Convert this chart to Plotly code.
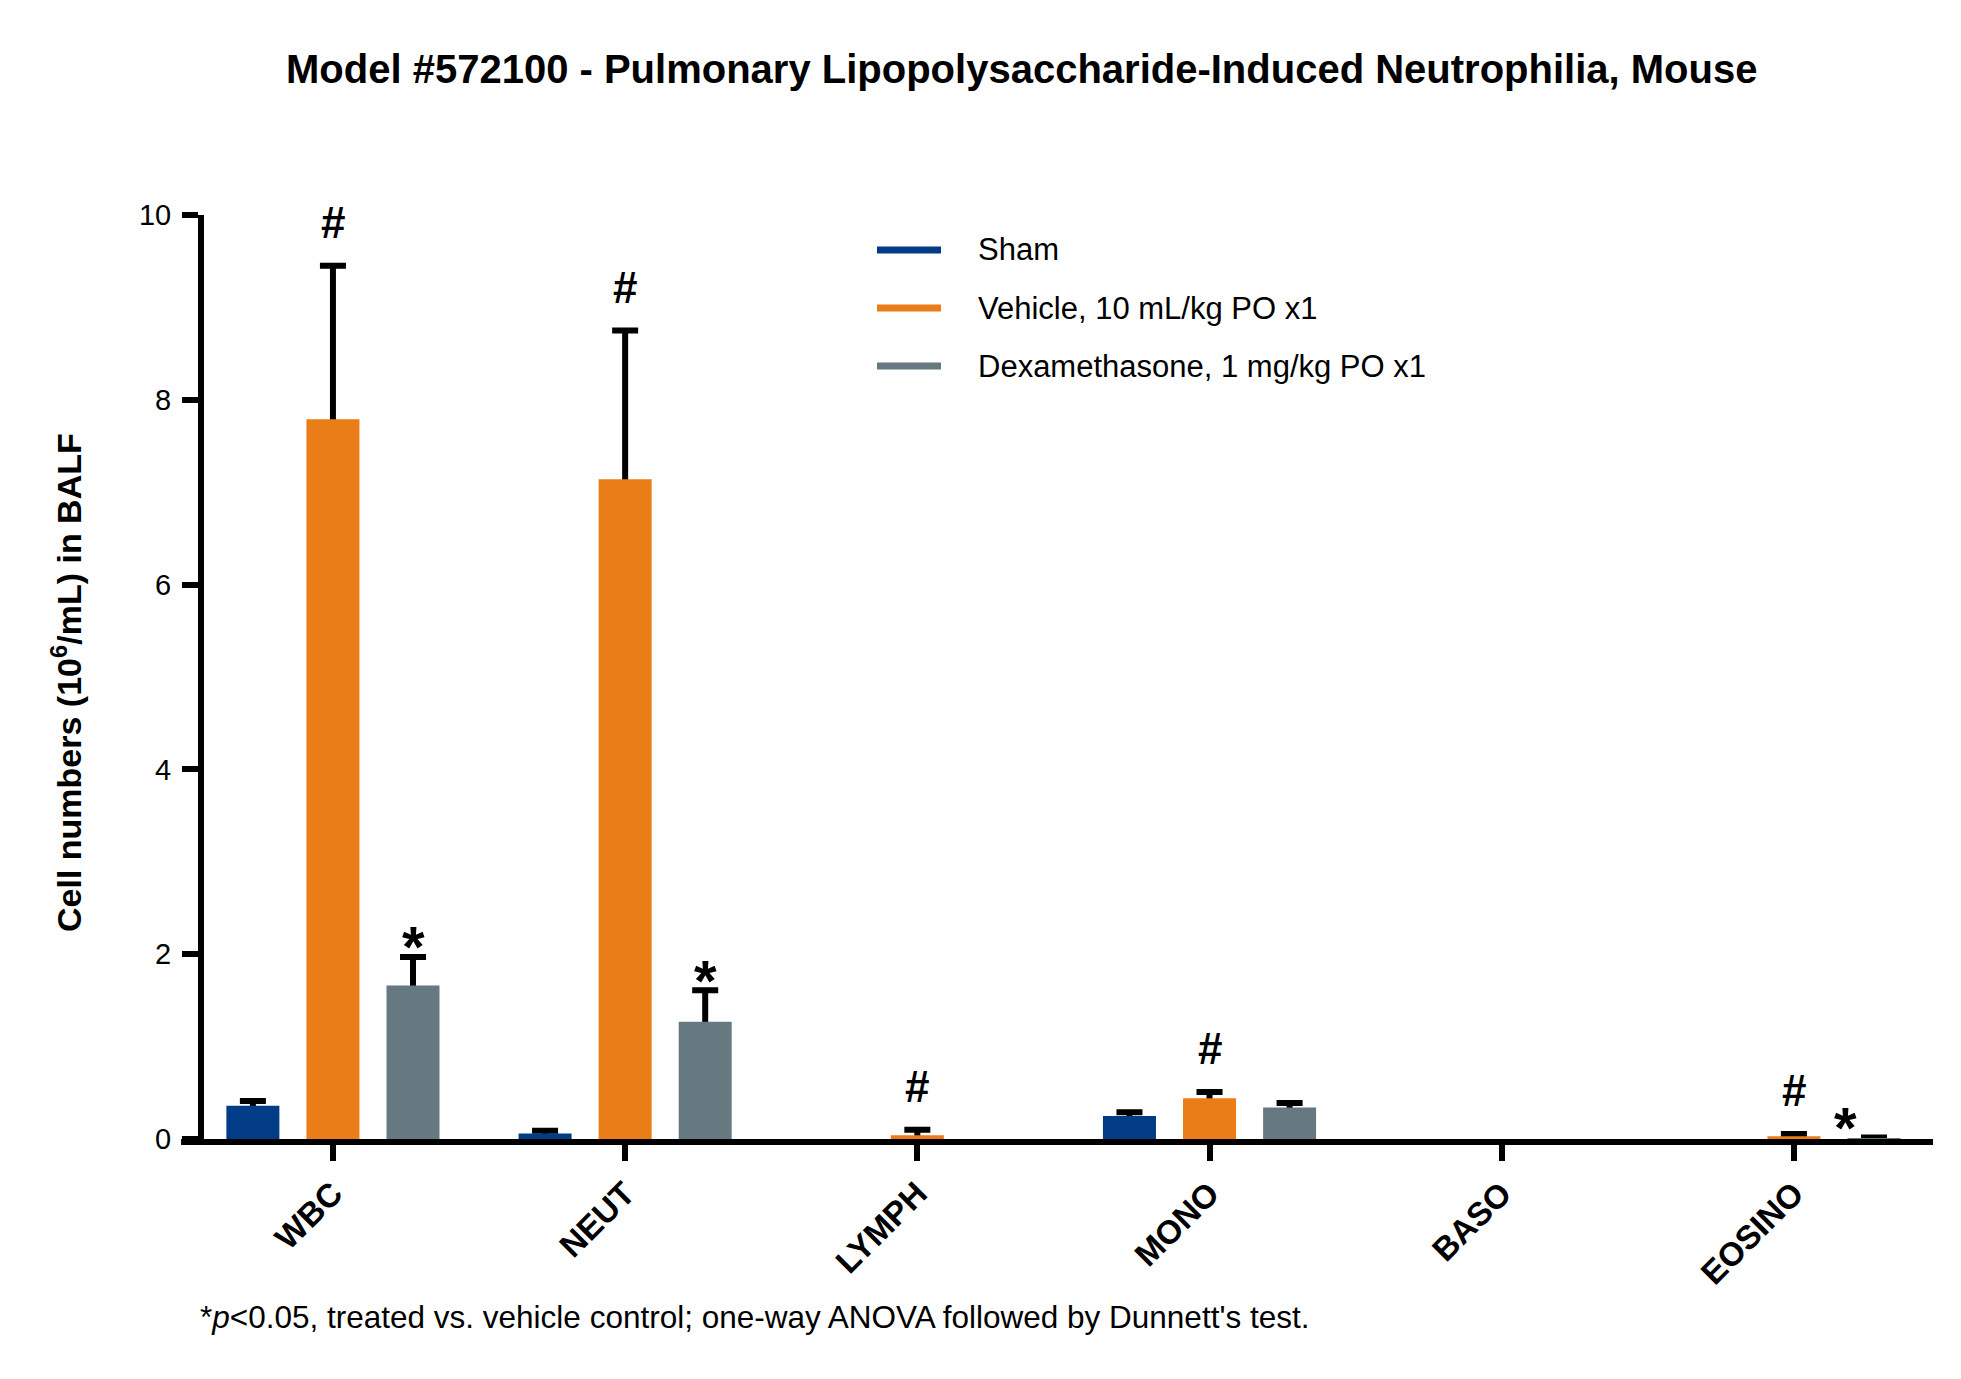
import plotly.graph_objects as go

# cell counts in BALF (10^6/mL), mean and upper error per group
categories = ["WBC", "NEUT", "LYMPH", "MONO", "BASO", "EOSINO"]
groups = ["Sham", "Vehicle, 10 mL/kg PO x1", "Dexamethasone, 1 mg/kg PO x1"]
colors = ["#023B86", "#EA7D17", "#667980"]

sham_mean = [0.36, 0.06, 0.0, 0.25, 0.0, 0.0]
sham_err = [0.05, 0.03, None, 0.04, None, None]
vehicle_mean = [7.79, 7.14, 0.04, 0.44, 0.0, 0.03]
vehicle_err = [1.66, 1.61, 0.06, 0.07, None, 0.025]
dex_mean = [1.66, 1.27, 0.0, 0.34, 0.0, 0.01]
dex_err = [0.31, 0.34, None, 0.05, None, 0.005]

# significance marks: (category, group index, symbol)
marks = [
    ("WBC", 1, "#"), ("NEUT", 1, "#"), ("LYMPH", 1, "#"), ("MONO", 1, "#"), ("EOSINO", 1, "#"),
    ("WBC", 2, "*"), ("NEUT", 2, "*"), ("EOSINO", 2, "*"),
]
mark_nudge = {("EOSINO", 2): -28}

means = [sham_mean, vehicle_mean, dex_mean]
errs = [sham_err, vehicle_err, dex_err]

# page geometry (px); the page body adds an 8px margin round the figure
PAGE_W, PAGE_H, BODY = 1961, 1379, 8
W, H = PAGE_W - 2 * BODY, PAGE_H - 2 * BODY
PLOT_L, PLOT_R, PLOT_T, PLOT_B = 181, 1933, 215, 1139  # plot area in page px
PW, PH = PLOT_R - PLOT_L, PLOT_B - PLOT_T
FONT = "Liberation Sans, Arial, sans-serif"
BARGAP, GROUPGAP = 0.178, 0.338
XRANGE = [-0.52, 5.476]


def px(x):
    return (x - PLOT_L) / PW


def py(y):
    return (PLOT_B - y) / PH


fig = go.Figure()

# error bars first (transparent bars), so coloured bars cover the lower stem
for g in range(3):
    xs = [c for c, e in zip(categories, errs[g]) if e is not None]
    ys = [m for m, e in zip(means[g], errs[g]) if e is not None]
    es = [e for e in errs[g] if e is not None]
    fig.add_trace(go.Bar(
        x=xs, y=ys, offsetgroup=str(g), marker_color="rgba(0,0,0,0)",
        marker_line_width=0, showlegend=False, hoverinfo="skip",
        error_y=dict(type="data", symmetric=False, array=es, arrayminus=ys,
                     color="black", thickness=6, width=13),
    ))

for g in range(3):
    fig.add_trace(go.Bar(
        x=categories, y=means[g], name=groups[g], offsetgroup=str(g),
        marker_color=colors[g], marker_line_width=0, showlegend=False,
    ))

# significance marks above the error caps
slot_px = (1 - BARGAP) / 3 * PW / (XRANGE[1] - XRANGE[0])
for cat, g, sym in marks:
    i = categories.index(cat)
    top = means[g][i] + (errs[g][i] or 0)
    fig.add_annotation(
        x=cat, y=top, xref="x", yref="y", text=sym, showarrow=False,
        xshift=(g - 1) * slot_px + mark_nudge.get((cat, g), 0),
        yanchor="middle",
        yshift=43 if sym == "#" else 10,
        font=dict(family=FONT, size=44 if sym == "#" else 58, color="black", weight="bold"),
    )

# legend drawn as thin swatches with labels
for g in range(3):
    ry = 250 + g * 58
    fig.add_shape(type="line", xref="paper", yref="paper",
                  x0=px(877), x1=px(941), y0=py(ry), y1=py(ry),
                  line=dict(color=colors[g], width=7))
    fig.add_annotation(x=px(976), y=py(ry), xref="paper", yref="paper",
                       text=groups[g], showarrow=False, xanchor="left", yanchor="middle",
                       font=dict(family=FONT, size=31, color="black"))

fig.add_annotation(
    x=px(1021), y=py(69), xref="paper", yref="paper", showarrow=False,
    xanchor="center", yanchor="middle",
    text="Model #572100 - Pulmonary Lipopolysaccharide-Induced Neutrophilia, Mouse",
    font=dict(family=FONT, size=40, color="black", weight="bold"),
)
fig.add_annotation(
    x=px(66), y=py(683), xref="paper", yref="paper", showarrow=False, textangle=-90,
    xanchor="center", yanchor="middle",
    text="Cell numbers (10<sup>6</sup>/mL) in BALF",
    font=dict(family=FONT, size=34, color="black", weight="bold"),
)
fig.add_annotation(
    x=px(198), y=py(1317), xref="paper", yref="paper", showarrow=False,
    xanchor="left", yanchor="middle",
    text="*<i>p</i><0.05, treated vs. vehicle control; one-way ANOVA followed by Dunnett's test.",
    font=dict(family=FONT, size=31.5, color="black"),
)

fig.update_layout(
    width=W, height=H,
    margin=dict(l=PLOT_L - BODY, r=W - (PLOT_R - BODY), t=PLOT_T - BODY, b=H - (PLOT_B - BODY)),
    paper_bgcolor="white", plot_bgcolor="white",
    barmode="group", bargap=BARGAP, bargroupgap=GROUPGAP,
    font=dict(family=FONT, color="black"),
    xaxis=dict(
        type="category", categoryorder="array", categoryarray=categories,
        range=XRANGE, showline=True, linewidth=6, linecolor="black",
        ticks="outside", ticklen=16, tickwidth=6, tickcolor="black",
        tickangle=-45, showgrid=False, zeroline=False,
        tickfont=dict(family=FONT, size=33, color="black", weight="bold"),
    ),
    yaxis=dict(
        range=[0, 10], tickvals=[0, 2, 4, 6, 8, 10], anchor="free", position=px(201),
        showline=True, linewidth=6, linecolor="black",
        ticks="outside", ticklen=16, tickwidth=6, tickcolor="black",
        ticklabelstandoff=5, showgrid=False, zeroline=False,
        tickfont=dict(family=FONT, size=29, color="black"),
    ),
)

fig.write_html("out.html")
